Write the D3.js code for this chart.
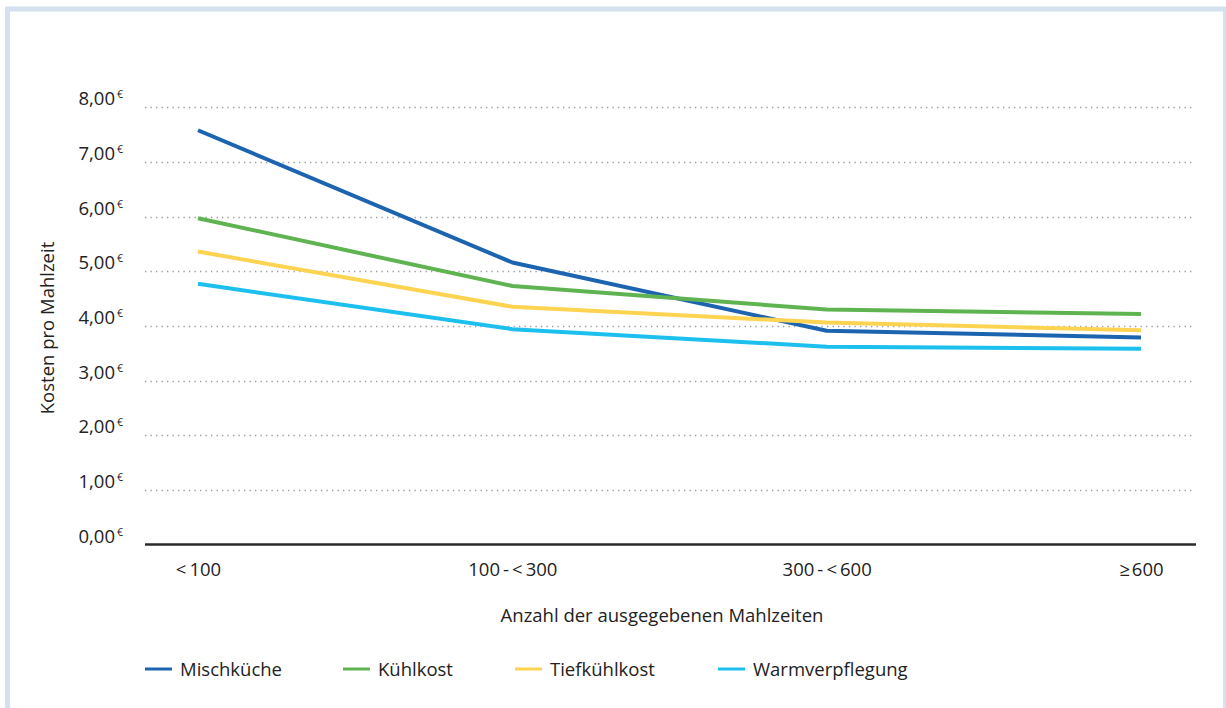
<!DOCTYPE html>
<html>
<head>
<meta charset="utf-8">
<script src="https://cdn.jsdelivr.net/npm/d3@7"></script>
<style>
  html, body { margin: 0; padding: 0; background: #fff; }
  svg { display: block; }
  text { font-family: "Open Sans", "Noto Sans", sans-serif; fill: #222; }
</style>
</head>
<body>
<svg id="chart" width="1226" height="708"></svg>
<script>
// Kosten pro Mahlzeit nach Anzahl der ausgegebenen Mahlzeiten
const categories = ["<\u2009100", "100\u2009-\u2009<\u2009300", "300\u2009-\u2009<\u2009600", "≥\u200a600"];
const seriesNames = ["Mischküche", "Kühlkost", "Tiefkühlkost", "Warmverpflegung"];
const mischkueche = [7.58, 5.16, 3.91, 3.79];
const kuehlkost = [5.97, 4.73, 4.30, 4.22];
const tiefkuehlkost = [5.36, 4.35, 4.06, 3.92];
const warmverpflegung = [4.77, 3.94, 3.62, 3.58];
const yTicks = [0, 1, 2, 3, 4, 5, 6, 7, 8];
const colors = ["#1c64b0", "#5fb451", "#fdd352", "#1dbfef"];

const series = [mischkueche, kuehlkost, tiefkuehlkost, warmverpflegung]
  .map((values, i) => ({ name: seriesNames[i], values, color: colors[i] }));

const FS = 18.5;
const svg = d3.select("#chart");

// Frame
svg.append("rect")
  .attr("x", 7.5).attr("y", 9).attr("width", 1218).attr("height", 710)
  .attr("fill", "none").attr("stroke", "#d3e1f1").attr("stroke-width", 5);

const plot = { left: 145, right: 1196, bottom: 544.5 };

const x = d3.scalePoint()
  .domain(categories)
  .range([198, 1141]);

const y = d3.scaleLinear()
  .domain([0, 8])
  .range([plot.bottom, plot.bottom - 8 * 54.65]);

// Gridlines
svg.append("g")
  .selectAll("line")
  .data(yTicks.filter(d => d > 0))
  .join("line")
  .attr("x1", plot.left).attr("x2", plot.right - 2)
  .attr("y1", d => Math.round(y(d)) + 0.5).attr("y2", d => Math.round(y(d)) + 0.5)
  .attr("stroke", "#9a9a9a")
  .attr("stroke-width", 1.3)
  .attr("stroke-dasharray", "1.3 4.2");

// Y tick labels with superscript euro sign
const yLab = svg.append("g");
yTicks.forEach(t => {
  yLab.append("text")
    .attr("x", 115)
    .attr("y", y(t) - 2)
    .attr("text-anchor", "end")
    .attr("font-size", FS)
    .text(d3.format(".2f")(t).replace(".", ","));
  yLab.append("text")
    .attr("x", 117)
    .attr("y", y(t) - 9)
    .attr("font-size", 10.5)
    .text("€");
});

// X axis
const xAxis = d3.axisBottom(x).tickSize(0).tickPadding(18);
const xg = svg.append("g")
  .attr("transform", `translate(0,${plot.bottom})`)
  .call(xAxis);
xg.select(".domain").remove();
xg.selectAll("text")
  .attr("font-size", FS)
  .attr("fill", "#222")
  .style("font-family", "'Open Sans', 'Noto Sans', sans-serif");

svg.append("line")
  .attr("x1", plot.left).attr("x2", plot.right)
  .attr("y1", plot.bottom).attr("y2", plot.bottom)
  .attr("stroke", "#2b2b2b").attr("stroke-width", 2.5);

// Axis titles
svg.append("text")
  .attr("x", 662).attr("y", 622)
  .attr("text-anchor", "middle")
  .attr("font-size", FS)
  .text("Anzahl der ausgegebenen Mahlzeiten");

svg.append("text")
  .attr("transform", "translate(54,328) rotate(-90)")
  .attr("text-anchor", "middle")
  .attr("font-size", FS)
  .text("Kosten pro Mahlzeit");

// Lines
const line = d3.line()
  .x((d, i) => x(categories[i]))
  .y(d => y(d));

svg.append("g")
  .selectAll("path")
  .data(series)
  .join("path")
  .attr("d", d => line(d.values))
  .attr("fill", "none")
  .attr("stroke", d => d.color)
  .attr("stroke-width", 4)
  .attr("stroke-linejoin", "round");

// Legend
const legendX = [145, 343, 515, 718];
const lg = svg.append("g");
series.forEach((s, i) => {
  lg.append("line")
    .attr("x1", legendX[i]).attr("x2", legendX[i] + 27)
    .attr("y1", 669).attr("y2", 669)
    .attr("stroke", s.color).attr("stroke-width", 3);
  lg.append("text")
    .attr("x", legendX[i] + 35)
    .attr("y", 675.5)
    .attr("font-size", FS)
    .text(s.name);
});
</script>
</body>
</html>
